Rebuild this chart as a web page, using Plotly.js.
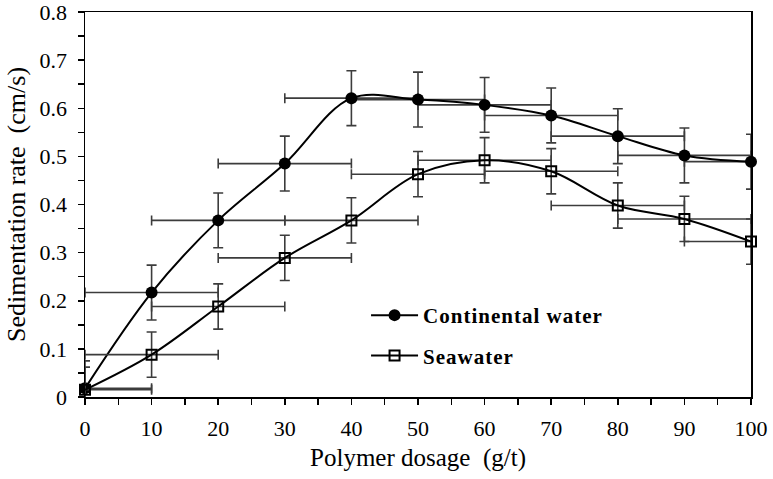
<!DOCTYPE html>
<html>
<head>
<meta charset="utf-8">
<script src="https://cdn.plot.ly/plotly-3.0.1.min.js"></script>
<style>
  html, body { margin: 0; padding: 0; background: #fff; }
  #chart { width: 773px; height: 479px; }
  .legendtext { letter-spacing: 1px; }
</style>
</head>
<body>
<div id="chart"></div>
<script>
// Polymer dosage (g/t)
const dosage = [0, 10, 20, 30, 40, 50, 60, 70, 80, 90, 100];

// Sedimentation rate (cm/s)
const continental = [0.018, 0.217, 0.367, 0.485, 0.621, 0.618, 0.607, 0.585, 0.542, 0.502, 0.489];
const seawater    = [0.015, 0.088, 0.188, 0.289, 0.367, 0.463, 0.492, 0.469, 0.398, 0.370, 0.323];

// Vertical error (cm/s)
const continentalErr = [0.057, 0.057, 0.057, 0.057, 0.057, 0.057, 0.057, 0.057, 0.057, 0.057, 0.057];
const seawaterErr    = [0.047, 0.047, 0.047, 0.047, 0.047, 0.047, 0.047, 0.047, 0.047, 0.047, 0.047];

// Horizontal error (g/t), one-sided at both ends of the dosage range
const dosageErrPlus  = [10, 10, 10, 10, 10, 10, 10, 10, 10, 10, 0];
const dosageErrMinus = [0, 10, 10, 10, 10, 10, 10, 10, 10, 10, 10];

const serif = 'Liberation Serif, Times New Roman, serif';
const barColor = '#3c3c3c';

function errY(arr) {
  return { type: 'data', array: arr, symmetric: true, color: barColor, thickness: 1.6, width: 5 };
}
function errX() {
  return { type: 'data', array: dosageErrPlus, arrayminus: dosageErrMinus, symmetric: false,
           color: barColor, thickness: 1.6, width: 5 };
}

const traces = [
  {
    x: dosage, y: continental, name: 'Continental water', legendgroup: 'c',
    type: 'scatter', mode: 'lines+markers', cliponaxis: false,
    line: { color: '#000', width: 2, shape: 'spline', smoothing: 1 },
    marker: { symbol: 'circle', size: 12, color: '#000' },
    error_y: errY(continentalErr),
    error_x: errX()
  },
  {
    x: dosage, y: seawater, name: 'Seawater', legendgroup: 's',
    type: 'scatter', mode: 'lines+markers', cliponaxis: false,
    line: { color: '#000', width: 2, shape: 'spline', smoothing: 1 },
    marker: { symbol: 'square-open', size: 10, color: '#000', line: { width: 2, color: '#000' } },
    error_y: errY(seawaterErr),
    error_x: errX()
  }
];

const layout = {
  width: 773, height: 479,
  margin: { l: 85, r: 22, t: 12, b: 82 },
  paper_bgcolor: '#fff', plot_bgcolor: '#fff',
  font: { family: serif, color: '#000', size: 22 },
  showlegend: true,
  legend: {
    x: 0.422, y: 0.265, xanchor: 'left', yanchor: 'top',
    bgcolor: 'rgba(0,0,0,0)', borderwidth: 0,
    itemwidth: 47, traceorder: 'grouped', tracegroupgap: 10,
    font: { family: serif, size: 21, weight: 'bold', color: '#000' }
  },
  xaxis: {
    range: [0, 100], tickvals: [0, 10, 20, 30, 40, 50, 60, 70, 80, 90, 100],
    showgrid: false, zeroline: false,
    showline: true, linecolor: '#000', linewidth: 1.5, mirror: true,
    ticks: 'outside', ticklen: 6, tickwidth: 1.5, tickcolor: '#000',
    minor: { dtick: 5, ticks: 'outside', ticklen: 6, tickwidth: 1.5, tickcolor: '#000', showgrid: false },
    tickfont: { family: serif, size: 22, color: '#000' },
    ticklabelstandoff: 5, ticklabeloverflow: 'allow',
    title: { text: 'Polymer dosage\u00a0\u00a0(g/t)', font: { family: serif, size: 25, color: '#000' }, standoff: 8 }
  },
  yaxis: {
    range: [0, 0.8], dtick: 0.1, tick0: 0,
    showgrid: false, zeroline: false,
    showline: true, linecolor: '#000', linewidth: 1.5, mirror: true,
    ticks: 'outside', ticklen: 6, tickwidth: 1.5, tickcolor: '#000',
    minor: { dtick: 0.05, ticks: 'outside', ticklen: 6, tickwidth: 1.5, tickcolor: '#000', showgrid: false },
    tickfont: { family: serif, size: 22, color: '#000' },
    ticklabelstandoff: 6, ticklabeloverflow: 'allow',
    title: { text: 'Sedimentation rate\u00a0\u00a0(cm/s)', font: { family: serif, size: 26, color: '#000' }, standoff: 6 }
  }
};

Plotly.newPlot('chart', traces, layout, { staticPlot: true, displayModeBar: false });
</script>
</body>
</html>
